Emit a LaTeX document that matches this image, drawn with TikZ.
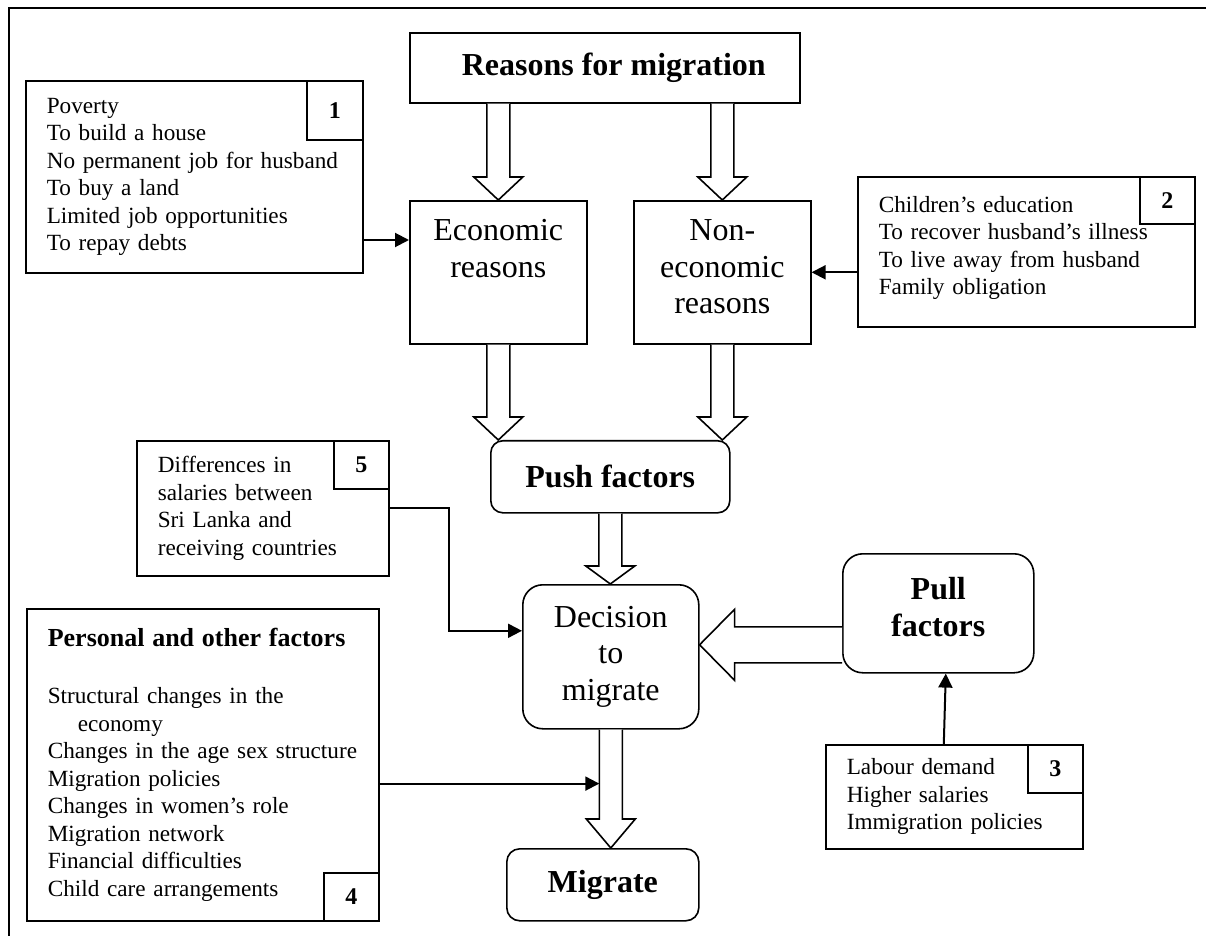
\documentclass[tikz,border=0pt]{standalone}
\usepackage{fontspec}
\setmainfont{Liberation Serif}
\usetikzlibrary{arrows.meta,calc}

\begin{document}
\begin{tikzpicture}[
	x=0.5pt, y=-0.5pt,
	% 统一样式
	box/.style={draw, line width=0.8pt, anchor=north west, inner sep=0pt},
	listbox/.style={box, align=left, inner xsep=10.5pt, font=\fontsize{11.6}{13.75}\selectfont},
	numbox/.style={box, minimum width=27.5pt, minimum height=24pt, font=\fontsize{12}{13.75}\selectfont\bfseries},
	bigtxt/.style={font=\fontsize{16}{18.4}\selectfont, align=center, inner sep=0pt},
	hollow/.style={draw, line width=0.8pt, fill=white, line join=miter},
	arr/.style={-{Triangle[length=7pt,width=7pt]}, line width=1pt}
	]
	
	\useasboundingbox (0,0) rectangle (1206,936);
	% ----- 0. 外框 -----
	\draw[line width=1pt] (9,936) -- (9,8) -- (1206,8);
	
	% ----- 1. 中间主干 -----
	\node[box, minimum width=195pt, minimum height=35pt, font=\fontsize{16}{18.4}\selectfont\bfseries]
		(RM) at (409,32) {\hspace*{9pt}Reasons for migration};
	\node[box, minimum width=88.5pt, minimum height=71.5pt] (EC) at (409,200) {};
	\node[box, minimum width=88.5pt, minimum height=71.5pt] (NE) at (633,200) {};
	\node[bigtxt, anchor=north] (ECt) at ($(EC.north)+(0,19)$) {Economic\\reasons};
	\node[bigtxt, anchor=north] (NEt) at ($(NE.north)+(0,19)$) {Non-\\economic\\reasons};
	
	\node[box, rounded corners=6pt, minimum width=119.5pt, minimum height=36pt, font=\fontsize{16}{18.4}\selectfont\bfseries]
		(PF) at (490,440) {Push factors};
	\node[box, rounded corners=10pt, minimum width=88pt, minimum height=72pt, bigtxt]
		(DM) at (522,584) {Decision\\to\\migrate};
	\node[box, rounded corners=10pt, minimum width=95.5pt, minimum height=59.5pt] (PL) at (842,553) {};
	\node[bigtxt, anchor=north, font=\fontsize{16}{18.4}\selectfont\bfseries] (PLt) at ($(PL.north)+(0,24)$) {Pull\\factors};
	\node[box, rounded corners=6.5pt, minimum width=96pt, minimum height=36pt, font=\fontsize{16}{18.4}\selectfont\bfseries]
		(MG) at (506,848) {Migrate};
	
	% ----- 2. 五个原因框 -----
	\node[listbox, text width=147.5pt, minimum height=96pt] (B1) at (25,80)
		{Poverty\\To build a house\\\mbox{No permanent job for husband}\\To buy a land\\Limited job opportunities\\To repay debts};
	\node[numbox, minimum width=28pt, minimum height=29.5pt] (N1) at (306,80) {1};
	
	\node[listbox, text width=147.5pt, minimum height=75pt] (B2) at (857,176)
		{Children's education\\\mbox{To recover husband's illness}\\To live away from husband\\Family obligation\\[-7.25pt]\mbox{}};
	\node[numbox, minimum height=23.5pt] (N2) at (1139,176) {2};
	
	\node[listbox, text width=107.5pt, minimum height=52pt] (B3) at (825,744)
		{Labour demand\\Higher salaries\\Immigration policies};
	\node[numbox] (N3) at (1027,744) {3};
	
	\node[listbox, text width=155pt, minimum height=156pt] (B4) at (26,608)
		{{\fontsize{13}{15}\selectfont\bfseries Personal and other factors}\\[15pt]
		Structural changes in the\\\hspace*{15pt}economy\\\mbox{Changes in the age sex structure}\\Migration policies\\
		Changes in women's role\\Migration network\\Financial difficulties\\Child care arrangements};
	\node[numbox] (N4) at (323,872) {4};
	
	\node[listbox, text width=105pt, minimum height=67.5pt] (B5) at (136,440)
		{Differences in\\salaries between\\Sri Lanka and\\receiving countries};
	\node[numbox] (N5) at (333,440) {5};
	
	% ----- 3. 空心箭头 -----
	% 原因 -> 经济 / 非经济
	\draw[hollow] ($(EC.north|-RM.south)+(-11.5,0)$) -- ($(EC.north)+(-11.5,-23)$) -- ($(EC.north)+(-24.5,-23)$)
		-- (EC.north) -- ($(EC.north)+(24.5,-23)$) -- ($(EC.north)+(11.5,-23)$) -- ($(EC.north|-RM.south)+(11.5,0)$);
	\draw[hollow] ($(NE.north|-RM.south)+(-11.5,0)$) -- ($(NE.north)+(-11.5,-23)$) -- ($(NE.north)+(-24.5,-23)$)
		-- (NE.north) -- ($(NE.north)+(24.5,-23)$) -- ($(NE.north)+(11.5,-23)$) -- ($(NE.north|-RM.south)+(11.5,0)$);
	% 经济 / 非经济 -> 推力
	\coordinate (a3) at (EC.south|-PF.north);
	\coordinate (a4) at (NE.south|-PF.north);
	\draw[hollow] ($(EC.south)+(-11.5,0)$) -- ($(a3)+(-11.5,-23)$) -- ($(a3)+(-24.5,-23)$)
		-- (a3) -- ($(a3)+(24.5,-23)$) -- ($(a3)+(11.5,-23)$) -- ($(EC.south)+(11.5,0)$);
	\draw[hollow] ($(NE.south)+(-11.5,0)$) -- ($(a4)+(-11.5,-23)$) -- ($(a4)+(-24.5,-23)$)
		-- (a4) -- ($(a4)+(24.5,-23)$) -- ($(a4)+(11.5,-23)$) -- ($(NE.south)+(11.5,0)$);
	% 推力 -> 决定
	\coordinate (a5) at (PF.south|-DM.north);
	\draw[hollow] ($(PF.south)+(-11.5,0)$) -- ($(a5)+(-11.5,-18)$) -- ($(a5)+(-24.5,-18)$)
		-- (a5) -- ($(a5)+(24.5,-18)$) -- ($(a5)+(11.5,-18)$) -- ($(PF.south)+(11.5,0)$);
	% 决定 -> 迁移
	\coordinate (a6) at (DM.south|-MG.north);
	\draw[hollow] ($(DM.south)+(-11.5,0)$) -- ($(a6)+(-11.5,-29)$) -- ($(a6)+(-24.5,-29)$)
		-- (a6) -- ($(a6)+(24.5,-29)$) -- ($(a6)+(11.5,-29)$) -- ($(DM.south)+(11.5,0)$);
	% 拉力 -> 决定
	\coordinate (a7) at ($(DM.east)+(0,-12)$);
	\draw[hollow] ($(PL.west|-a7)+(0,-18)$) -- ($(a7)+(35,-18)$) -- ($(a7)+(35,-35.5)$)
		-- (a7) -- ($(a7)+(35,35.5)$) -- ($(a7)+(35,18)$) -- ($(PL.west|-a7)+(0,18)$);
	
	% ----- 4. 细箭头 -----
	\coordinate (t1) at ($(EC.north west)+(0,40)$);
	\draw[arr] (B1.east|-t1) -- (t1);
	\draw[arr] (B2.west|-NE.east) -- (NE.east);
	\coordinate (t3) at ($(DM.west)+(0,-26)$);
	\draw[arr] (B5.east) -- ++(59,0) |- (t3);
	\coordinate (t4) at ($(DM.south)+(-11.5,54)$);
	\draw[arr] (B4.east|-t4) -- (t4);
	\draw[arr] ($(B3.north)+(-10.5,0)$) -- ($(PL.south)+(7.5,0)$);
	
\end{tikzpicture}
\end{document}
